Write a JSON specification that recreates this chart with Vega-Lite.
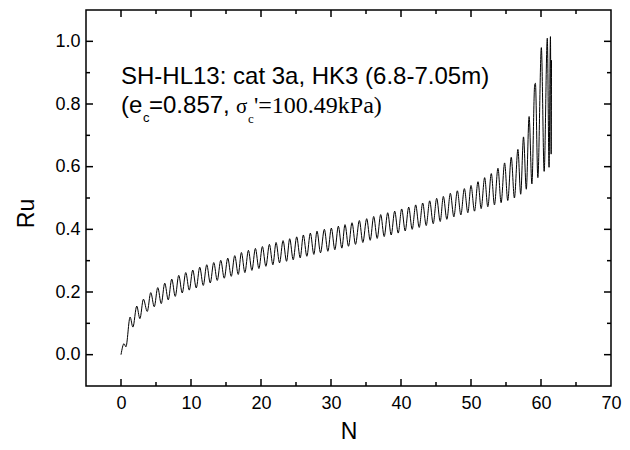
{
  "$schema": "https://vega.github.io/schema/vega-lite/v6.json",
  "width": 525,
  "height": 376,
  "autosize": {"type": "none"},
  "padding": {"left": 86, "top": 10, "right": 19, "bottom": 64},
  "background": "white",
  "config": {
    "view": {"stroke": "#000", "strokeWidth": 1.5},
    "axis": {
      "domain": false,
      "grid": false,
      "labelFont": "Liberation Sans",
      "labelFontSize": 18,
      "labelColor": "#000",
      "titleFont": "Liberation Sans",
      "titleFontSize": 23,
      "titleFontWeight": "normal",
      "titleColor": "#000",
      "labelOverlap": false,
      "labelFlush": false
    }
  },
  "datasets": {
    "xmaj": [{"v":0},{"v":10},{"v":20},{"v":30},{"v":40},{"v":50},{"v":60}],
    "xmin": [{"v":5},{"v":15},{"v":25},{"v":35},{"v":45},{"v":55},{"v":65}],
    "ymaj": [{"v":0},{"v":0.2},{"v":0.4},{"v":0.6},{"v":0.8},{"v":1.0}],
    "ymin": [{"v":0.1},{"v":0.3},{"v":0.5},{"v":0.7},{"v":0.9}]
  },
  "data": {"values": [
    {"N":0.0,"Ru":0.0},{"N":0.43,"Ru":0.035},{"N":0.7,"Ru":0.025},{"N":1.3,"Ru":0.12},{"N":1.7,"Ru":0.088},
    {"N":2.25,"Ru":0.155},{"N":2.7,"Ru":0.115},{"N":3.2,"Ru":0.177},{"N":3.75,"Ru":0.138},{"N":4.25,"Ru":0.198},
    {"N":4.75,"Ru":0.153},{"N":5.25,"Ru":0.214},{"N":5.75,"Ru":0.163},{"N":6.25,"Ru":0.228},{"N":6.75,"Ru":0.175},
    {"N":7.25,"Ru":0.241},{"N":7.75,"Ru":0.186},{"N":8.25,"Ru":0.253},{"N":8.75,"Ru":0.197},{"N":9.25,"Ru":0.262},
    {"N":9.75,"Ru":0.206},{"N":10.25,"Ru":0.27},{"N":10.75,"Ru":0.213},{"N":11.25,"Ru":0.279},{"N":11.75,"Ru":0.221},
    {"N":12.25,"Ru":0.287},{"N":12.75,"Ru":0.229},{"N":13.25,"Ru":0.294},{"N":13.75,"Ru":0.237},{"N":14.25,"Ru":0.301},
    {"N":14.75,"Ru":0.244},{"N":15.25,"Ru":0.308},{"N":15.75,"Ru":0.25},{"N":16.25,"Ru":0.316},{"N":16.75,"Ru":0.256},
    {"N":17.2,"Ru":0.326},{"N":17.7,"Ru":0.262},{"N":18.2,"Ru":0.333},{"N":18.7,"Ru":0.269},{"N":19.2,"Ru":0.339},
    {"N":19.7,"Ru":0.275},{"N":20.2,"Ru":0.345},{"N":20.7,"Ru":0.282},{"N":21.2,"Ru":0.352},{"N":21.7,"Ru":0.287},
    {"N":22.15,"Ru":0.358},{"N":22.65,"Ru":0.293},{"N":23.15,"Ru":0.364},{"N":23.65,"Ru":0.298},{"N":24.1,"Ru":0.37},
    {"N":24.6,"Ru":0.303},{"N":25.1,"Ru":0.376},{"N":25.6,"Ru":0.309},{"N":26.05,"Ru":0.382},{"N":26.55,"Ru":0.314},
    {"N":27.05,"Ru":0.388},{"N":27.55,"Ru":0.32},{"N":28.0,"Ru":0.394},{"N":28.5,"Ru":0.325},{"N":29.05,"Ru":0.4},
    {"N":29.55,"Ru":0.33},{"N":30.05,"Ru":0.404},{"N":30.55,"Ru":0.335},{"N":31.05,"Ru":0.41},{"N":31.55,"Ru":0.34},
    {"N":32.0,"Ru":0.415},{"N":32.5,"Ru":0.346},{"N":33.0,"Ru":0.421},{"N":33.5,"Ru":0.352},{"N":34.05,"Ru":0.428},
    {"N":34.55,"Ru":0.358},{"N":35.1,"Ru":0.434},{"N":35.6,"Ru":0.365},{"N":36.1,"Ru":0.441},{"N":36.6,"Ru":0.371},
    {"N":37.1,"Ru":0.447},{"N":37.6,"Ru":0.377},{"N":38.1,"Ru":0.453},{"N":38.6,"Ru":0.382},{"N":39.1,"Ru":0.458},
    {"N":39.6,"Ru":0.388},{"N":40.1,"Ru":0.465},{"N":40.6,"Ru":0.395},{"N":41.1,"Ru":0.471},{"N":41.6,"Ru":0.4},
    {"N":42.1,"Ru":0.478},{"N":42.6,"Ru":0.406},{"N":43.1,"Ru":0.484},{"N":43.6,"Ru":0.412},{"N":44.1,"Ru":0.491},
    {"N":44.6,"Ru":0.418},{"N":45.1,"Ru":0.499},{"N":45.6,"Ru":0.425},{"N":46.05,"Ru":0.505},{"N":46.55,"Ru":0.432},
    {"N":47.05,"Ru":0.515},{"N":47.55,"Ru":0.44},{"N":48.05,"Ru":0.523},{"N":48.55,"Ru":0.446},{"N":49.05,"Ru":0.53},
    {"N":49.55,"Ru":0.453},{"N":50.0,"Ru":0.54},{"N":50.5,"Ru":0.458},{"N":51.0,"Ru":0.552},{"N":51.45,"Ru":0.466},
    {"N":51.95,"Ru":0.565},{"N":52.4,"Ru":0.472},{"N":52.9,"Ru":0.578},{"N":53.35,"Ru":0.478},{"N":53.85,"Ru":0.595},
    {"N":54.3,"Ru":0.485},{"N":54.8,"Ru":0.612},{"N":55.25,"Ru":0.492},{"N":55.75,"Ru":0.63},{"N":56.2,"Ru":0.5},
    {"N":56.7,"Ru":0.655},{"N":57.1,"Ru":0.512},{"N":57.5,"Ru":0.695},{"N":57.9,"Ru":0.528},{"N":58.3,"Ru":0.76},
    {"N":58.7,"Ru":0.545},{"N":59.1,"Ru":0.862},{"N":59.2,"Ru":0.866},{"N":59.55,"Ru":0.565},{"N":60.05,"Ru":0.98},
    {"N":60.45,"Ru":0.585},{"N":60.9,"Ru":1.01},{"N":61.15,"Ru":0.598},{"N":61.35,"Ru":1.015},{"N":61.45,"Ru":0.64},
    {"N":61.5,"Ru":0.94}
  ]},
  "layer": [
    {
      "mark": {"type": "line", "interpolate": "monotone", "color": "#000", "strokeWidth": 1},
      "encoding": {
        "x": {"field": "N", "type": "quantitative", "scale": {"domain": [-5, 70], "nice": false, "zero": false},
          "axis": {"orient": "bottom", "values": [0,10,20,30,40,50,60,70], "format": "d", "ticks": false,
            "labelPadding": 8, "title": "N", "titleX": 262.5, "titleY": 52, "titleBaseline": "alphabetic"}},
        "y": {"field": "Ru", "type": "quantitative", "scale": {"domain": [-0.1, 1.1], "nice": false, "zero": false},
          "axis": {"orient": "left", "values": [0,0.2,0.4,0.6,0.8,1.0], "format": ".1f", "ticks": false,
            "labelPadding": 6, "title": "Ru", "titleX": -53, "titleY": 203, "titleBaseline": "alphabetic"}}
      }
    },
    {
      "data": {"name": "xmaj"},
      "mark": {"type": "tick", "orient": "vertical", "color": "#000", "opacity": 1, "size": 7, "thickness": 1.5, "yOffset": -3.5},
      "encoding": {
        "x": {"field": "v", "type": "quantitative", "scale": {"domain": [-5, 70], "nice": false, "zero": false}, "axis": null},
        "y": {"datum": -0.1, "type": "quantitative", "scale": {"domain": [-0.1, 1.1], "nice": false, "zero": false}, "axis": null}
      }
    },
    {
      "data": {"name": "xmaj"},
      "mark": {"type": "tick", "orient": "vertical", "color": "#000", "opacity": 1, "size": 7, "thickness": 1.5, "yOffset": 3.5},
      "encoding": {
        "x": {"field": "v", "type": "quantitative", "scale": {"domain": [-5, 70], "nice": false, "zero": false}, "axis": null},
        "y": {"datum": 1.1, "type": "quantitative", "scale": {"domain": [-0.1, 1.1], "nice": false, "zero": false}, "axis": null}
      }
    },
    {
      "data": {"name": "xmin"},
      "mark": {"type": "tick", "orient": "vertical", "color": "#000", "opacity": 1, "size": 4, "thickness": 1.5, "yOffset": -2},
      "encoding": {
        "x": {"field": "v", "type": "quantitative", "scale": {"domain": [-5, 70], "nice": false, "zero": false}, "axis": null},
        "y": {"datum": -0.1, "type": "quantitative", "scale": {"domain": [-0.1, 1.1], "nice": false, "zero": false}, "axis": null}
      }
    },
    {
      "data": {"name": "xmin"},
      "mark": {"type": "tick", "orient": "vertical", "color": "#000", "opacity": 1, "size": 4, "thickness": 1.5, "yOffset": 2},
      "encoding": {
        "x": {"field": "v", "type": "quantitative", "scale": {"domain": [-5, 70], "nice": false, "zero": false}, "axis": null},
        "y": {"datum": 1.1, "type": "quantitative", "scale": {"domain": [-0.1, 1.1], "nice": false, "zero": false}, "axis": null}
      }
    },
    {
      "data": {"name": "ymaj"},
      "mark": {"type": "tick", "orient": "horizontal", "color": "#000", "opacity": 1, "size": 7, "thickness": 1.5, "xOffset": 3.5},
      "encoding": {
        "y": {"field": "v", "type": "quantitative", "scale": {"domain": [-0.1, 1.1], "nice": false, "zero": false}, "axis": null},
        "x": {"datum": -5, "type": "quantitative", "scale": {"domain": [-5, 70], "nice": false, "zero": false}, "axis": null}
      }
    },
    {
      "data": {"name": "ymaj"},
      "mark": {"type": "tick", "orient": "horizontal", "color": "#000", "opacity": 1, "size": 7, "thickness": 1.5, "xOffset": -3.5},
      "encoding": {
        "y": {"field": "v", "type": "quantitative", "scale": {"domain": [-0.1, 1.1], "nice": false, "zero": false}, "axis": null},
        "x": {"datum": 70, "type": "quantitative", "scale": {"domain": [-5, 70], "nice": false, "zero": false}, "axis": null}
      }
    },
    {
      "data": {"name": "ymin"},
      "mark": {"type": "tick", "orient": "horizontal", "color": "#000", "opacity": 1, "size": 4, "thickness": 1.5, "xOffset": 2},
      "encoding": {
        "y": {"field": "v", "type": "quantitative", "scale": {"domain": [-0.1, 1.1], "nice": false, "zero": false}, "axis": null},
        "x": {"datum": -5, "type": "quantitative", "scale": {"domain": [-5, 70], "nice": false, "zero": false}, "axis": null}
      }
    },
    {
      "data": {"name": "ymin"},
      "mark": {"type": "tick", "orient": "horizontal", "color": "#000", "opacity": 1, "size": 4, "thickness": 1.5, "xOffset": -2},
      "encoding": {
        "y": {"field": "v", "type": "quantitative", "scale": {"domain": [-0.1, 1.1], "nice": false, "zero": false}, "axis": null},
        "x": {"datum": 70, "type": "quantitative", "scale": {"domain": [-5, 70], "nice": false, "zero": false}, "axis": null}
      }
    },
    {
      "data": {"values": [{"N": 0, "Ru": 0.864, "t": "SH-HL13: cat 3a, HK3 (6.8-7.05m)"}]},
      "mark": {"type": "text", "align": "left", "baseline": "alphabetic", "font": "Liberation Sans", "fontSize": 24, "color": "#000"},
      "encoding": {
        "x": {"field": "N", "type": "quantitative", "scale": {"domain": [-5, 70], "nice": false, "zero": false}, "axis": null},
        "y": {"field": "Ru", "type": "quantitative", "scale": {"domain": [-0.1, 1.1], "nice": false, "zero": false}, "axis": null},
        "text": {"field": "t"}
      }
    },
    {
      "data": {"values": [{"N": 0, "Ru": 0.771, "t": "(e"}]},
      "mark": {"type": "text", "align": "left", "baseline": "alphabetic", "font": "Liberation Sans", "fontSize": 24, "color": "#000"},
      "encoding": {
        "x": {"field": "N", "type": "quantitative", "scale": {"domain": [-5, 70], "nice": false, "zero": false}, "axis": null},
        "y": {"field": "Ru", "type": "quantitative", "scale": {"domain": [-0.1, 1.1], "nice": false, "zero": false}, "axis": null},
        "text": {"field": "t"}
      }
    },
    {
      "data": {"values": [{"N": 0, "Ru": 0.771, "t": "c"}]},
      "mark": {"type": "text", "align": "left", "baseline": "alphabetic", "font": "Liberation Sans", "fontSize": 13, "color": "#000", "dx": 22, "dy": 9},
      "encoding": {
        "x": {"field": "N", "type": "quantitative", "scale": {"domain": [-5, 70], "nice": false, "zero": false}, "axis": null},
        "y": {"field": "Ru", "type": "quantitative", "scale": {"domain": [-0.1, 1.1], "nice": false, "zero": false}, "axis": null},
        "text": {"field": "t"}
      }
    },
    {
      "data": {"values": [{"N": 0, "Ru": 0.771, "t": "=0.857,"}]},
      "mark": {"type": "text", "align": "left", "baseline": "alphabetic", "font": "Liberation Sans", "fontSize": 24, "color": "#000", "dx": 28},
      "encoding": {
        "x": {"field": "N", "type": "quantitative", "scale": {"domain": [-5, 70], "nice": false, "zero": false}, "axis": null},
        "y": {"field": "Ru", "type": "quantitative", "scale": {"domain": [-0.1, 1.1], "nice": false, "zero": false}, "axis": null},
        "text": {"field": "t"}
      }
    },
    {
      "data": {"values": [{"N": 0, "Ru": 0.771, "t": "σ"}]},
      "mark": {"type": "text", "align": "left", "baseline": "alphabetic", "font": "Liberation Serif", "fontSize": 21, "color": "#000", "dx": 115},
      "encoding": {
        "x": {"field": "N", "type": "quantitative", "scale": {"domain": [-5, 70], "nice": false, "zero": false}, "axis": null},
        "y": {"field": "Ru", "type": "quantitative", "scale": {"domain": [-0.1, 1.1], "nice": false, "zero": false}, "axis": null},
        "text": {"field": "t"}
      }
    },
    {
      "data": {"values": [{"N": 0, "Ru": 0.771, "t": "c"}]},
      "mark": {"type": "text", "align": "left", "baseline": "alphabetic", "font": "Liberation Serif", "fontSize": 13, "color": "#000", "dx": 127, "dy": 10},
      "encoding": {
        "x": {"field": "N", "type": "quantitative", "scale": {"domain": [-5, 70], "nice": false, "zero": false}, "axis": null},
        "y": {"field": "Ru", "type": "quantitative", "scale": {"domain": [-0.1, 1.1], "nice": false, "zero": false}, "axis": null},
        "text": {"field": "t"}
      }
    },
    {
      "data": {"values": [{"N": 0, "Ru": 0.771, "t": "'=100.49kPa)"}]},
      "mark": {"type": "text", "align": "left", "baseline": "alphabetic", "font": "Liberation Serif", "fontSize": 24, "color": "#000", "dx": 133},
      "encoding": {
        "x": {"field": "N", "type": "quantitative", "scale": {"domain": [-5, 70], "nice": false, "zero": false}, "axis": null},
        "y": {"field": "Ru", "type": "quantitative", "scale": {"domain": [-0.1, 1.1], "nice": false, "zero": false}, "axis": null},
        "text": {"field": "t"}
      }
    }
  ],
  "resolve": {"axis": {"x": "independent", "y": "independent"}}
}
